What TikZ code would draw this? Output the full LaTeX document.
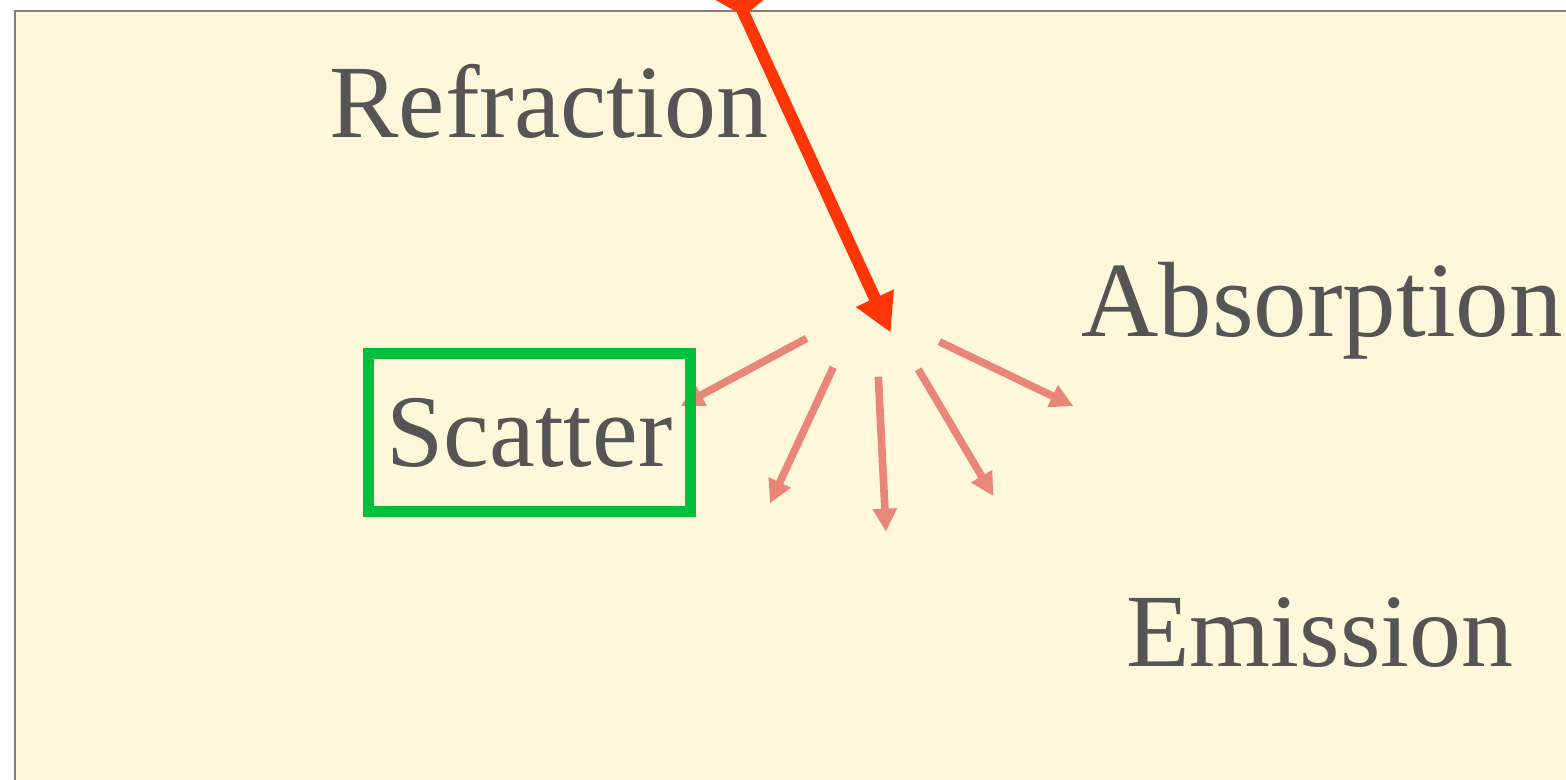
\documentclass[tikz,border=0pt]{standalone}
\usepackage{fontspec}
\setmainfont{Liberation Serif}
\usetikzlibrary{arrows.meta}
\definecolor{bgfill}{HTML}{FFF7D9}
\definecolor{bgline}{HTML}{808080}
\definecolor{txt}{HTML}{555555}
\definecolor{ray}{HTML}{FF3508}
\definecolor{pinkray}{HTML}{EA8579}
\definecolor{boxgreen}{HTML}{00BF3A}
\tikzset{
 lbl/.style={text=txt, font=\fontsize{52}{56}\selectfont, inner sep=0pt, anchor=base},
 inray/.style={draw=ray, line width=6pt, -{Triangle[length=19pt,width=19.5pt]}},
 outray/.style={draw=pinkray, line width=3.8pt, -{Triangle[length=11.5pt,width=11.5pt]}},
 framebox/.style={draw=boxgreen, line width=5.25pt, minimum width=160.9pt, minimum height=79pt, inner sep=0pt, text=txt, font=\fontsize{51.5}{56}\selectfont},
}
\begin{document}
\begin{tikzpicture}[x=0.5pt,y=-0.5pt]
\useasboundingbox (0,0) rectangle (1566,780);
\begin{scope}
\clip (0,0) rectangle (1566,780);
\fill[bgfill] (15,11) rectangle (1600,800);
\draw[bgline, line width=1pt] (15,800) -- (15,11) -- (1600,11);

\node[lbl] (refraction) at (549,137.3) {Refraction};
\node[lbl, font=\fontsize{53.5}{56}\selectfont] (absorption) at (1322.2,336.7) {Absorption};
\node[lbl] (emission) at (1320,666.7) {Emission};

\coordinate (src) at (733,-10);
\coordinate (hit) at (890.7,332.7);
\fill[ray] (744,16) -- (694,-12) -- (778,-12) -- cycle;
\draw[inray] (src) -- (hit);

\coordinate (s1) at (806.7,338.3); \coordinate (t1) at (680.7,406);
\coordinate (s2) at (833.3,367.3); \coordinate (t2) at (770,503.3);
\coordinate (s3) at (878.3,376.7); \coordinate (t3) at (886,531.7);
\coordinate (s4) at (918.3,369.3); \coordinate (t4) at (993.3,496);
\coordinate (s5) at (939.3,341.7); \coordinate (t5) at (1073.3,406);
\foreach \i in {1,...,5} { \draw[outray] (s\i) -- (t\i); }

\node[framebox] (scatter) at (529.6,432.7) {Scatter};
\end{scope}
\end{tikzpicture}
\end{document}
